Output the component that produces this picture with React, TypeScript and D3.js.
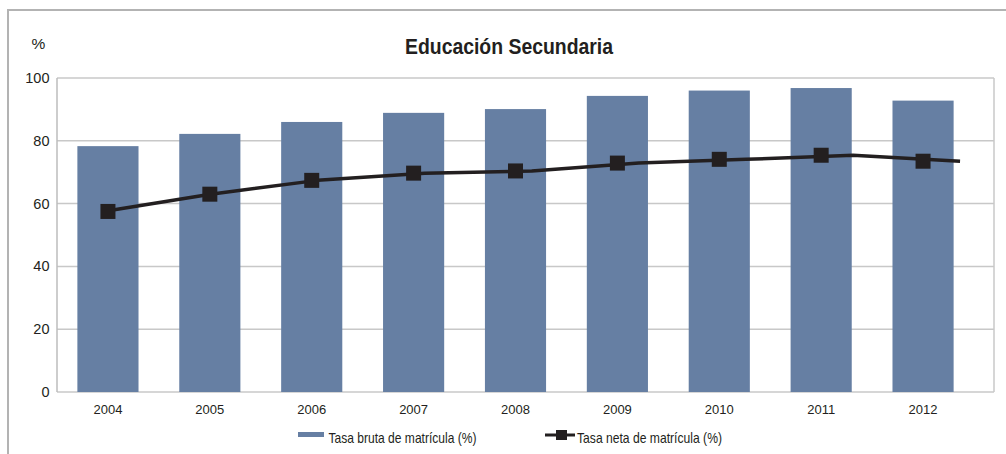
import React from "react";
import * as d3 from "d3";

const years = ["2004", "2005", "2006", "2007", "2008", "2009", "2010", "2011", "2012"];
const tasaBruta = [78.3, 82.2, 86.0, 88.9, 90.1, 94.3, 96.0, 96.8, 92.8];
const tasaNeta = [57.5, 63.0, 67.4, 69.7, 70.4, 72.9, 74.1, 75.4, 73.5];
const yTicks = [0, 20, 40, 60, 80, 100];
const title = "Educación Secundaria";
const legendBruta = "Tasa bruta de matrícula (%)";
const legendNeta = "Tasa neta de matrícula (%)";

const W = 1006;
const H = 454;
const plot = { left: 57, top: 78, right: 994, bottom: 392 };
const bandRight = 974;
const barColor = "#667fa3";
const lineColor = "#231f20";
const gridColor = "#c8c8c8";
const regular = "'Liberation Sans', Arial, sans-serif";

export default function App() {
  const x = d3.scaleBand<string>().domain(years).range([plot.left, bandRight]).paddingInner(0.4).paddingOuter(0.2);
  const y = d3.scaleLinear().domain([0, 100]).range([plot.bottom, plot.top]);
  const cx = (yr: string) => (x(yr) as number) + x.bandwidth() / 2;
  // the connecting line in the source is drawn on its own, slightly stretched x positions
  const xLine = d3.scaleLinear().domain([0, years.length - 1]).range([cx(years[0]) - 4.5, cx(years[years.length - 1]) + 37]);
  const linePath = d3.line<number>().x((_, i) => xLine(i)).y((d) => y(d))(tasaNeta) || "";

  return (
    <svg width={W} height={H} style={{ position: "absolute", left: 0, top: 0, background: "#fff" }}>
      {/* outer frame */}
      <line x1={7} y1={10} x2={W} y2={10} stroke="#b3b3b3" strokeWidth={2} />
      <line x1={8} y1={10} x2={8} y2={H} stroke="#b3b3b3" strokeWidth={2} />

      <text x={38.5} y={49} fontFamily={regular} fontSize={15.5} fill="#231f20" textAnchor="middle">%</text>
      <text x={405} y={53.5} fontFamily={regular} fontWeight="bold" fontSize={22} fill="#231f20"
        textLength={208} lengthAdjust="spacingAndGlyphs">{title}</text>

      {/* grid */}
      {yTicks.map((t) => (
        <line key={t} x1={plot.left} x2={plot.right} y1={y(t)} y2={y(t)} stroke={gridColor} strokeWidth={1.5} />
      ))}
      <line x1={plot.left} x2={plot.left} y1={plot.top} y2={plot.bottom} stroke="#bdbdbd" strokeWidth={1.5} />
      <line x1={plot.right} x2={plot.right} y1={plot.top} y2={plot.bottom} stroke={gridColor} strokeWidth={1.5} />

      {yTicks.map((t) => (
        <text key={t} x={49.5} y={y(t) + 5} fontFamily={regular} fontSize={14.5} fill="#231f20" textAnchor="end">{t}</text>
      ))}

      {/* bars */}
      {years.map((yr, i) => (
        <rect key={yr} x={x(yr)} y={y(tasaBruta[i])} width={x.bandwidth()} height={y(0) - y(tasaBruta[i])} fill={barColor} />
      ))}

      {years.map((yr) => (
        <text key={yr} x={cx(yr)} y={414} fontFamily={regular} fontSize={13} fill="#231f20" textAnchor="middle">{yr}</text>
      ))}

      {/* line */}
      <path d={linePath} fill="none" stroke={lineColor} strokeWidth={3.5} strokeLinejoin="round" />
      {years.map((yr, i) => (
        <rect key={yr} x={cx(yr) - 7.5} y={y(tasaNeta[i]) - 7.5} width={15} height={15} fill={lineColor} />
      ))}

      {/* legend */}
      <rect x={298} y={432} width={26} height={5} fill={barColor} />
      <text x={328.5} y={443} fontFamily={regular} fontSize={14.5} fill="#231f20"
        textLength={148} lengthAdjust="spacingAndGlyphs">{legendBruta}</text>
      <line x1={545} x2={575} y1={435} y2={435} stroke={lineColor} strokeWidth={3} />
      <rect x={556} y={430} width={11} height={10} fill={lineColor} />
      <text x={577} y={443} fontFamily={regular} fontSize={14.5} fill="#231f20"
        textLength={145} lengthAdjust="spacingAndGlyphs">{legendNeta}</text>
    </svg>
  );
}
